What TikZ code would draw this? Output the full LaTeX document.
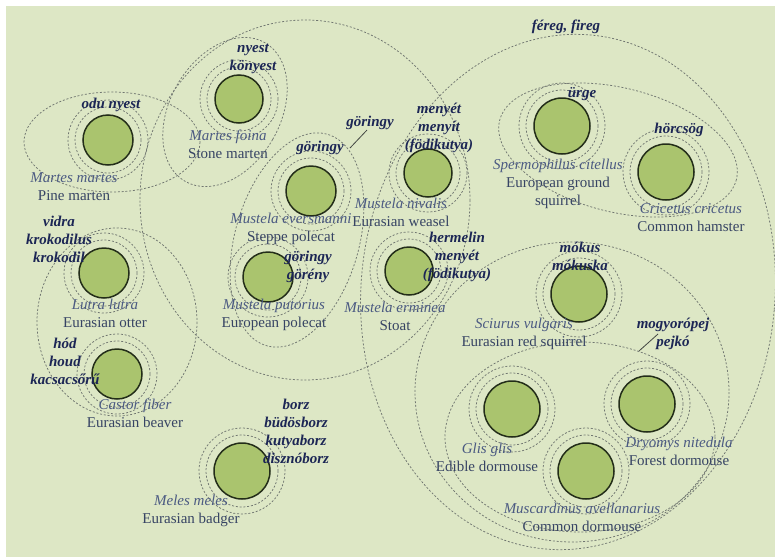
\documentclass[tikz,border=0pt]{standalone}
\usepackage{fontspec}
\setmainfont{Liberation Serif}
\usetikzlibrary{shapes.geometric}
\definecolor{bg}{RGB}{221,231,197}
\definecolor{spfill}{RGB}{170,196,110}
\definecolor{spline}{RGB}{35,45,25}
\definecolor{dashc}{RGB}{112,118,112}
\definecolor{scic}{RGB}{75,90,130}
\definecolor{comc}{RGB}{55,68,100}
\definecolor{hunc}{RGB}{28,38,85}
\newcommand\scin[1]{\textcolor{scic}{\itshape #1}}
\tikzset{
 sp/.style={circle, draw=spline, fill=spfill, line width=1.5pt, inner sep=0pt},
 ring/.style={circle, draw=dashc, line width=0.75pt, dash pattern=on 2pt off 1.8pt, inner sep=0pt},
 grp/.style={draw=dashc, line width=0.75pt, dash pattern=on 2pt off 1.8pt},
 hun/.style={font=\fontsize{15}{18}\selectfont\bfseries\itshape, text=hunc, align=center, inner sep=0pt},
 nm/.style={font=\fontsize{15}{18}\selectfont, text=comc, align=center, inner sep=0pt},
 lead/.style={draw=dashc!60!black, line width=0.8pt},
}
\begin{document}
\begin{tikzpicture}[x=1pt,y=-1pt]
\useasboundingbox (0,0) rectangle (775,557);
\fill[white] (0,0) rectangle (775,557);
\fill[bg] (6,6) rectangle (775,557);

% group ellipses
\draw[grp] (112,142) ellipse [x radius=88, y radius=50];
\draw[grp, rotate around={-30:(225,112)}] (225,112) ellipse [x radius=55, y radius=80];
\draw[grp] (305,200) ellipse [x radius=165, y radius=180];
\draw[grp] (117,322) ellipse [x radius=80, y radius=94];
\draw[grp, rotate around={-16:(297,240)}] (297,240) ellipse [x radius=62, y radius=110];
\draw[grp, rotate around={-5:(568,292)}] (568,292) ellipse [x radius=207, y radius=258];
\draw[grp, rotate around={-14:(618,150)}] (618,150) ellipse [x radius=122, y radius=62];
\draw[grp] (572,392) ellipse [x radius=157, y radius=150];
\draw[grp] (580,437) ellipse [x radius=135, y radius=95];

% rings and species circles
\foreach \n/\x/\y/\r in {mm/108/140/25, mf/239/99/24, me/311/191/25, mn/428/173/24,
  sc/562/126/28, cc/666/172/28, ll/104/273/25, cf/117/374/25, mp/268/277/25,
  mer/409/271/24, mel/242/471/28, sv/579/294/28, gg/512/409/28, dn/647/404/28, ma/586/471/28}{
  \node[ring, minimum size=2*\r+30] (\n-o) at (\x,\y) {};
  \node[ring, minimum size=2*\r+16] (\n-i) at (\x,\y) {};
}
\foreach \n/\x/\y/\r in {mm/108/140/25, mf/239/99/24, me/311/191/25, mn/428/173/24,
  sc/562/126/28, cc/666/172/28, ll/104/273/25, cf/117/374/25, mp/268/277/25,
  mer/409/271/24, mel/242/471/28, sv/579/294/28, gg/512/409/28, dn/647/404/28, ma/586/471/28}{
  \node[sp, minimum size=2*\r] (\n) at (\x,\y) {};
}

% species names
\node[nm] (nmm) at (74,187) {\scin{Martes martes}\\Pine marten};
\node[nm] (nmf) at (228,144) {\scin{Martes foina}\\Stone marten};
\node[nm] (nme) at (291,229) {\scin{Mustela eversmanni}\\Steppe polecat};
\node[nm] (nmp) at (274,315) {\scin{Mustela putorius}\\European polecat};
\node[nm] (nmn) at (401,212) {\scin{Mustela nivalis}\\Eurasian weasel};
\node[nm] (nmer) at (395,316) {\scin{Mustela erminea}\\Stoat};
\node[nm] (nll) at (105,313) {\scin{Lutra lutra}\\Eurasian otter};
\node[nm] (ncf) at (135,413) {\scin{Castor fiber}\\Eurasian beaver};
\node[nm] (nmel) at (191,511) {\scin{Meles meles}\\Eurasian badger};
\node[nm] (nsc) at (558,184) {\scin{Spermophilus citellus}\\European ground\\squirrel};
\node[nm] (ncc) at (691,218) {\scin{Cricetus cricetus}\\Common hamster};
\node[nm] (nsv) at (524,334) {\scin{Sciurus vulgaris}\\Eurasian red squirrel};
\node[nm] (ngg) at (487,457) {\scin{Glis glis}\\Edible dormouse};
\node[nm] (ndn) at (679,451) {\scin{Dryomys nitedula}\\Forest dormouse};
\node[nm] (nma) at (582,517) {\scin{Muscardinus avellanarius}\\Common dormouse};

% Hungarian names
\node[hun] (hmm) at (111,105) {odu nyest};
\node[hun] (hmf) at (253,59) {nyest\\könyest};
\node[hun] (hme) at (320,148) {göringy};
\node[hun] (hg) at (370,123) {göringy};
\node[hun] (hmp) at (308,267) {göringy\\görény};
\node[hun] (hmn) at (439,128) {menyét\\menyít\\(födikutya)};
\node[hun] (hmer) at (457,257) {hermelin\\menyét\\(födikutya)};
\node[hun] (hll) at (59,239) {vidra\\krokodilus\\krokodil};
\node[hun] (hcf) at (65,361) {hód\\houd\\kacsacsőrű};
\node[hun] (hmel) at (296,431) {borz\\büdösborz\\kutyaborz\\disznóborz};
\node[hun] (hsc) at (582,94) {ürge};
\node[hun] (hcc) at (679,130) {hörcsög};
\node[hun] (hsv) at (580,256) {mókus\\mókuska};
\node[hun] (hdorm) at (673,334) {mogyorópej\\pejkó};
\node[hun] (hfer) at (566,27) {féreg, fireg};

% leader lines
\coordinate (gend) at (350,148);
\draw[lead] (hg.south) ++(-3,0) -- (gend);
\coordinate (mend) at (639,351);
\draw[lead] (hdorm.center) ++(-15,0) -- (mend);
\end{tikzpicture}
\end{document}
